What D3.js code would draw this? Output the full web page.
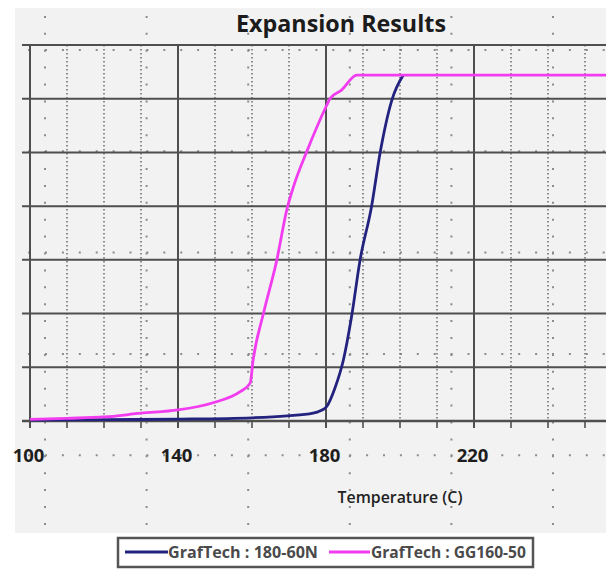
<!DOCTYPE html>
<html>
<head>
<meta charset="utf-8">
<script src="https://cdn.jsdelivr.net/npm/d3@7"></script>
<style>
  html, body { margin: 0; padding: 0; background: #fff; overflow: hidden; }
  text { font-family: "Open Sans", "Noto Sans", sans-serif; }
</style>
</head>
<body>
<script>
// Expansion curves (temperature in C, expansion in grid units)
const temps180 = [100, 120, 140, 160, 169.5, 176.5, 178.5, 180.2, 182.4, 184.7, 186.9, 189.2, 192.3, 194.6, 197.8, 200.9];
const expansion180 = [0.3, 0.5, 0.7, 1.2, 1.9, 2.9, 3.8, 5.4, 12.2, 22.7, 38.8, 59.9, 79.8, 99.7, 119.5, 128.8];

const tempsGG = [100, 110, 120, 130, 140, 149.5, 156.8, 159.5, 160.3, 163.1, 166.7, 169.4, 171.2, 174.8, 180, 181.1, 184.2, 188.3, 260];
const expansionGG = [0.6, 1.0, 1.5, 2.9, 4.1, 6.8, 10.9, 14.1, 22.7, 40.1, 59.9, 78.6, 87.2, 100.3, 117, 120.1, 123.2, 128.8, 128.8];

const seriesNames = ['GrafTech : 180-60N', 'GrafTech : GG160-50'];
const seriesColors = ['#23227f', '#f23cf0'];
const xTickLabels = [100, 140, 180, 220];

const width = 606, height = 569;
const svg = d3.select('body').append('svg')
  .attr('width', width)
  .attr('height', height);

// chart area background
svg.append('rect')
  .attr('x', 15).attr('y', 8)
  .attr('width', width - 15).attr('height', 525)
  .attr('fill', '#f2f2f2');

svg.append('clipPath').attr('id', 'bg')
  .append('rect').attr('x', 15).attr('y', 8).attr('width', width - 15).attr('height', 525);

// coarse dotted lattice behind everything
const lattice = svg.append('g').attr('clip-path', 'url(#bg)')
  .attr('stroke', '#8c8c8c').attr('stroke-width', 2).attr('stroke-dasharray', '2 14.9');
d3.range(6).forEach(k => {
  const lx = 45 + 101.6 * k;
  lattice.append('line').attr('x1', lx).attr('x2', lx).attr('y1', -1).attr('y2', 540);
});
d3.range(5).forEach(k => {
  const ly = 50 + 101.3 * k;
  lattice.append('line').attr('x1', 45 - 16.9 * 2).attr('x2', 620).attr('y1', ly).attr('y2', ly);
});

const x = d3.scaleLinear().domain([100, 260]).range([30, 622]);
const y = d3.scaleLinear().domain([0, 140]).range([421, 45]);

// minor dotted verticals every 10 C
const minor = d3.range(100, 261, 10).filter(v => (v - 100) % 40 !== 0);
svg.append('g')
  .selectAll('line').data(minor).join('line')
  .attr('x1', d => x(d)).attr('x2', d => x(d))
  .attr('y1', y(140)).attr('y2', y(0))
  .attr('stroke', '#747474').attr('stroke-width', 1.6)
  .attr('stroke-dasharray', '1.6 2.4');

// major gridlines
const majorX = d3.range(100, 261, 40);
const majorY = d3.range(0, 141, 20);
svg.append('g')
  .selectAll('line').data(majorX).join('line')
  .attr('x1', d => x(d)).attr('x2', d => x(d))
  .attr('y1', y(140) - 1).attr('y2', y(0) + 7)
  .attr('stroke', '#4f4f4f').attr('stroke-width', 2);
svg.append('g')
  .selectAll('line').data(majorY).join('line')
  .attr('x1', x(100) - 8).attr('x2', width)
  .attr('y1', d => y(d)).attr('y2', d => y(d))
  .attr('stroke', '#4f4f4f').attr('stroke-width', d => d === 0 ? 2.4 : 2);

// small ticks under the x axis
svg.append('g')
  .selectAll('line').data(d3.range(100, 261, 10)).join('line')
  .attr('x1', d => x(d)).attr('x2', d => x(d))
  .attr('y1', y(0)).attr('y2', y(0) + 7)
  .attr('stroke', '#4f4f4f').attr('stroke-width', 1.6);

// curves
const line = d3.line()
  .x(d => x(d[0])).y(d => y(d[1]))
  .curve(d3.curveMonotoneX);
const series = [
  d3.zip(temps180, expansion180),
  d3.zip(tempsGG, expansionGG)
];
svg.append('g')
  .selectAll('path').data(series).join('path')
  .attr('d', line)
  .attr('fill', 'none')
  .attr('stroke', (d, i) => seriesColors[i])
  .attr('stroke-width', 2.8)
  .attr('stroke-linejoin', 'round');

function fit(sel, w) {
  const cur = sel.node().getComputedTextLength();
  sel.attr('font-size', parseFloat(sel.attr('font-size')) * w / cur);
  return sel;
}

// title
fit(svg.append('text')
  .attr('x', 341).attr('y', 32)
  .attr('text-anchor', 'middle')
  .attr('font-size', 20).attr('font-weight', 700)
  .attr('fill', '#1b1b1b')
  .text('Expansion Results'), 210);

// x tick labels
svg.append('g')
  .selectAll('text').data(xTickLabels).join('text')
  .attr('x', d => x(d) - 1.5).attr('y', 462)
  .attr('text-anchor', 'middle')
  .attr('font-size', 18.5).attr('font-weight', 700)
  .attr('fill', '#1e1e1e')
  .text(d => d);

// axis title
fit(svg.append('text')
  .attr('x', 400).attr('y', 503)
  .attr('text-anchor', 'middle')
  .attr('font-size', 15).attr('font-weight', 600)
  .attr('fill', '#222')
  .text('Temperature (C)'), 125);

// legend
const lg = svg.append('g');
lg.append('rect')
  .attr('x', 118).attr('y', 538)
  .attr('width', 415).attr('height', 29)
  .attr('fill', '#fff')
  .attr('stroke', '#555').attr('stroke-width', 2.5);
const legendItems = [
  { x0: 125, x1: 168, tx: 168, tw: 150 },
  { x0: 329, x1: 370, tx: 371, tw: 155 }
];
legendItems.forEach((it, i) => {
  lg.append('line')
    .attr('x1', it.x0).attr('x2', it.x1)
    .attr('y1', 552).attr('y2', 552)
    .attr('stroke', seriesColors[i]).attr('stroke-width', 3);
  fit(lg.append('text')
    .attr('x', it.tx).attr('y', 558)
    .attr('font-size', 16).attr('font-weight', 700)
    .attr('fill', '#4a4a4a')
    .text(seriesNames[i]), it.tw);
});
</script>
</body>
</html>
